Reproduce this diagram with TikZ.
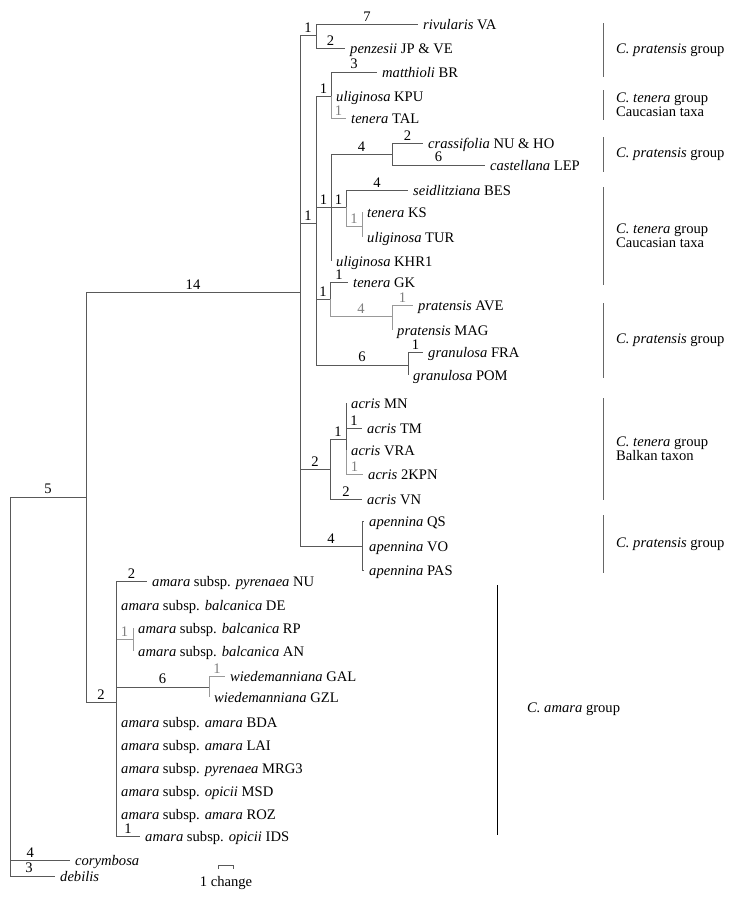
\documentclass[tikz,border=0pt]{standalone}
\usepackage{fontspec}
\setmainfont{Liberation Serif}
\usetikzlibrary{positioning}

\tikzset{
  branch/.style={draw=black!65, line width=0.8pt},
  homo/.style={draw=black!40, line width=0.8pt},
  leaf/.style={anchor=west, inner xsep=5pt, inner ysep=0pt, text height=10pt, text depth=0pt, font=\fontsize{14.6}{12}\selectfont},
  num/.style={anchor=south, inner sep=2.5pt, pos=0.75, font=\fontsize{14.6}{12}\selectfont},
  hnum/.style={num, text=black!50},
  grp/.style={anchor=west, align=left, inner sep=0pt, font=\fontsize{14.6}{12}\selectfont},
  bar/.style={draw=black!60, line width=1pt},
}

\begin{document}
\begin{tikzpicture}[x=1pt,y=-1pt]
\useasboundingbox (0,0) rectangle (740,900);

% internal nodes
\coordinate (root) at (10,700);
\coordinate (ingrp) at (86,497);
\coordinate (pratcl) at (300,292);
\coordinate (rivpen) at (316,35);
\coordinate (core) at (316,223);
\coordinate (mat) at (331,96);
\coordinate (cauc) at (331,207);
\coordinate (crac) at (392,154);
\coordinate (seid) at (346,207);
\coordinate (kstur) at (362,226);
\coordinate (gkpra) at (330,299);
\coordinate (prat) at (392,316);
\coordinate (gran) at (408,365);
\coordinate (acris) at (330,469);
\coordinate (acr) at (346,439);
\coordinate (apen) at (362,546);
\coordinate (amara) at (116,702);
\coordinate (balc) at (133,639);
\coordinate (wied) at (209,687);

% leaves
\node[leaf] (va) at (418,24) {\textit{rivularis} VA};
\node[leaf] (jp) at (345,48) {\textit{penzesii} JP \& VE};
\node[leaf] (br) at (377,72) {\textit{matthioli} BR};
\node[leaf] (kpu) at (331,96) {\textit{uliginosa} KPU};
\node[leaf] (tal) at (346,118) {\textit{tenera} TAL};
\node[leaf] (nuho) at (423,143) {\textit{crassifolia} NU \& HO};
\node[leaf] (lep) at (485,165) {\textit{castellana} LEP};
\node[leaf] (bes) at (408,190) {\textit{seidlitziana} BES};
\node[leaf] (ks) at (362,212) {\textit{tenera} KS};
\node[leaf] (tur) at (362,237) {\textit{uliginosa} TUR};
\node[leaf] (khr) at (331,261) {\textit{uliginosa} KHR1};
\node[leaf] (gk) at (348,282) {\textit{tenera} GK};
\node[leaf] (ave) at (413,305) {\textit{pratensis} AVE};
\node[leaf] (mag) at (392,330) {\textit{pratensis} MAG};
\node[leaf] (fra) at (423,352) {\textit{granulosa} FRA};
\node[leaf] (pom) at (408,375) {\textit{granulosa} POM};
\node[leaf] (mn) at (346,403) {\textit{acris} MN};
\node[leaf] (tm) at (362,428) {\textit{acris} TM};
\node[leaf] (vra) at (346,450) {\textit{acris} VRA};
\node[leaf] (kpn) at (363,474) {\textit{acris} 2KPN};
\node[leaf] (vn) at (362,499) {\textit{acris} VN};
\node[leaf] (qs) at (364,521) {\textit{apennina} QS};
\node[leaf] (vo) at (364,546) {\textit{apennina} VO};
\node[leaf] (pas) at (364,570) {\textit{apennina} PAS};
\node[leaf] (anu) at (147,581) {\textit{amara} subsp. \textit{pyrenaea} NU};
\node[leaf] (de) at (116,605) {\textit{amara} subsp. \textit{balcanica} DE};
\node[leaf] (rp) at (133,628) {\textit{amara} subsp. \textit{balcanica} RP};
\node[leaf] (an) at (133,651) {\textit{amara} subsp. \textit{balcanica} AN};
\node[leaf] (gal) at (225,676) {\textit{wiedemanniana} GAL};
\node[leaf] (gzl) at (209,697) {\textit{wiedemanniana} GZL};
\node[leaf] (bda) at (116,722) {\textit{amara} subsp. \textit{amara} BDA};
\node[leaf] (lai) at (116,745) {\textit{amara} subsp. \textit{amara} LAI};
\node[leaf] (mrg) at (116,768) {\textit{amara} subsp. \textit{pyrenaea} MRG3};
\node[leaf] (msd) at (116,791) {\textit{amara} subsp. \textit{opicii} MSD};
\node[leaf] (roz) at (116,814) {\textit{amara} subsp. \textit{amara} ROZ};
\node[leaf] (ids) at (140,836) {\textit{amara} subsp. \textit{opicii} IDS};
\node[leaf] (cor) at (70,860) {\textit{corymbosa}};
\node[leaf] (deb) at (55,876) {\textit{debilis}};

% homoplastic branches (drawn first, darker ones go on top)
\draw[homo] (mat) |- node[hnum]{1} (tal.west);
\draw[homo] (seid) |- node[hnum]{1} (kstur);
\draw[homo] (kstur) |- (ks.west);
\draw[homo] (kstur) |- (tur.west);
\draw[homo] (gkpra) |- node[hnum]{4} (prat);
\draw[homo] (prat) |- node[hnum]{1} (ave.west);
\draw[homo] (prat) |- (mag.west);
\draw[homo] (acr) |- node[hnum]{1} (kpn.west);
\draw[homo] (amara) |- node[hnum]{1} (balc);
\draw[homo] (balc) |- (rp.west);
\draw[homo] (balc) |- (an.west);
\draw[homo] (wied) |- node[hnum]{1} (gal.west);
\draw[homo] (wied) |- (gzl.west);

% backbone
\draw[branch] (root) |- node[num]{5} (ingrp);
\draw[branch] (root) |- node[num,pos=0.67]{4} (cor.west);
\draw[branch] (root) |- node[num,pos=0.71]{3} (deb.west);
\draw[branch] (ingrp) |- node[num]{14} (pratcl);
\draw[branch] (ingrp) |- node[num]{2} (amara);

% pratensis / tenera clade
\draw[branch] (pratcl) |- node[num]{1} (rivpen);
\draw[branch] (pratcl) |- node[num]{1} (core);
\draw[branch] (pratcl) |- node[num]{2} (acris);
\draw[branch] (pratcl) |- node[num]{4} (apen);
\draw[branch] (rivpen) |- node[num]{7} (va.west);
\draw[branch] (rivpen) |- node[num]{2} (jp.west);
\draw[branch] (core) |- node[num]{1} (mat);
\draw[branch] (core) |- node[num]{1} (cauc);
\draw[branch] (core) |- node[num]{1} (gkpra);
\draw[branch] (core) |- node[num]{6} (gran);
\draw[branch] (mat) |- node[num]{3} (br.west);
\draw[branch] (mat) |- (kpu.west);
\draw[branch] (cauc) |- node[num]{4} (crac);
\draw[branch] (cauc) |- node[num]{1} (seid);
\draw[branch] (cauc) |- (khr.west);
\draw[branch] (crac) |- node[num]{2} (nuho.west);
\draw[branch] (crac) |- node[num]{6} (lep.west);
\draw[branch] (seid) |- node[num]{4} (bes.west);
\draw[branch] (gkpra) |- node[num]{1} (gk.west);
\draw[branch] (gran) |- node[num]{1} (fra.west);
\draw[branch] (gran) |- (pom.west);
\draw[branch] (acris) |- node[num]{1} (acr);
\draw[branch] (acris) |- node[num]{2} (vn.west);
\draw[branch] (acr) |- (mn.west);
\draw[branch] (acr) |- node[num]{1} (tm.west);
\draw[branch] (acr) |- (vra.west);
\draw[branch] (apen) |- (qs.west);
\draw[branch] (apen) |- (pas.west);

% amara clade
\draw[branch] (amara) |- node[num]{2} (anu.west);
\draw[branch] (amara) |- (de.west);
\draw[branch] (amara) |- node[num]{6} (wied);
\draw[branch] (amara) |- node[num]{1} (ids.west);

% group bars
\foreach \ya/\yb/\txt [count=\i] in {
  23/77/{\textit{C. pratensis} group},
  90/120/{\textit{C. tenera} group\\Caucasian taxa},
  137/172/{\textit{C. pratensis} group},
  187/285/{\textit{C. tenera} group\\Caucasian taxa},
  303/378/{\textit{C. pratensis} group},
  398/500/{\textit{C. tenera} group\\Balkan taxon},
  515/573/{\textit{C. pratensis} group}} {
  \coordinate (gt\i) at (603,\ya);
  \coordinate (gb\i) at (603,\yb);
  \draw[bar] (gt\i) -- (gb\i);
  \node[grp] (g\i) at (616,{(\ya+\yb)/2}) {\txt};
}
\coordinate (amt) at (497,585);
\coordinate (amb) at (497,835);
\draw[draw=black, line width=1pt] (amt) -- (amb);
\node[grp] (gam) at (527,709) {\textit{C. amara} group};

% scale
\coordinate (sl) at (218,865);
\coordinate (sr) at (233,865);
\draw[branch] ([yshift=-4pt]sl) -- (sl) -- (sr) -- ([yshift=-4pt]sr);
\node[font=\fontsize{14.6}{12}\selectfont] (scl) at (226,883) {1 change};
\end{tikzpicture}
\end{document}
